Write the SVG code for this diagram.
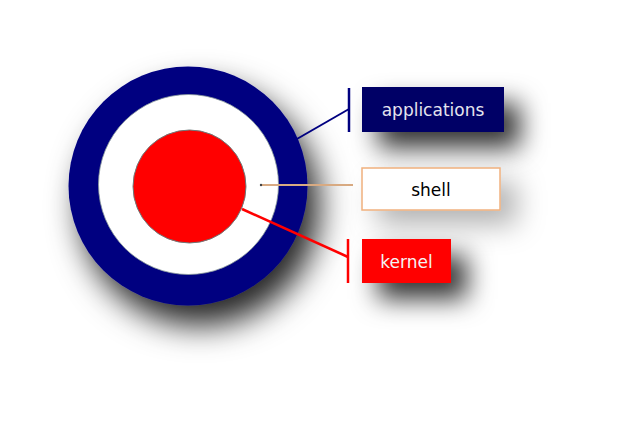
<svg xmlns="http://www.w3.org/2000/svg" width="635" height="440" viewBox="0 0 635 440">
<defs>
<filter id="sh" x="-50%" y="-50%" width="220%" height="220%">
<feDropShadow dx="12" dy="20" stdDeviation="16" flood-color="#000" flood-opacity="0.85"/>
</filter>
<filter id="shb" x="-60%" y="-120%" width="240%" height="400%">
<feDropShadow dx="16" dy="16" stdDeviation="13" flood-color="#000" flood-opacity="0.8"/>
</filter>
<filter id="shs" x="-60%" y="-120%" width="240%" height="400%">
<feDropShadow dx="16" dy="14" stdDeviation="14" flood-color="#000" flood-opacity="0.3"/>
</filter>
</defs>
<style>
.lbl{font-family:"DejaVu Sans",sans-serif;font-size:17px;text-anchor:middle}
</style>
<rect width="635" height="440" fill="#fff"/>
<g id="target">
<circle cx="188" cy="186" r="119.5" fill="#000080" filter="url(#sh)"/>
<circle cx="188.5" cy="184.5" r="90" fill="#fff" stroke="#8a9a9a" stroke-width="0.8"/>
<circle cx="189.5" cy="186.5" r="56.5" fill="#ff0000" stroke="#6b7b7b" stroke-width="1"/>
</g>
<g id="connectors">
<line x1="283" y1="147" x2="349" y2="109" stroke="#000080" stroke-width="2"/>
<line x1="349" y1="88" x2="349" y2="132" stroke="#000080" stroke-width="2.5"/>
<line x1="261" y1="185" x2="353" y2="185" stroke="#d8aa82" stroke-width="2"/>
<circle cx="261" cy="185" r="1.2" fill="#444"/>
<line x1="242" y1="209" x2="348" y2="257" stroke="#ff0000" stroke-width="2.5"/>
<line x1="348" y1="239" x2="348" y2="283" stroke="#ff0000" stroke-width="2.5"/>
</g>
<g id="applications">
<rect x="362" y="87" width="142" height="45" fill="#000066" filter="url(#shb)"/>
<text class="lbl" x="433" y="116" fill="#e4e4ee">applications</text>
</g>
<g id="shell">
<rect x="362" y="168" width="138" height="42" fill="#fff" stroke="#f0b07e" stroke-width="1.5" filter="url(#shs)"/>
<text class="lbl" x="431" y="196" fill="#000">shell</text>
</g>
<g id="kernel">
<rect x="362" y="239" width="89" height="44" fill="#ff0000" filter="url(#shb)"/>
<text class="lbl" x="406.5" y="268" fill="#f4f4f4">kernel</text>
</g>
</svg>
